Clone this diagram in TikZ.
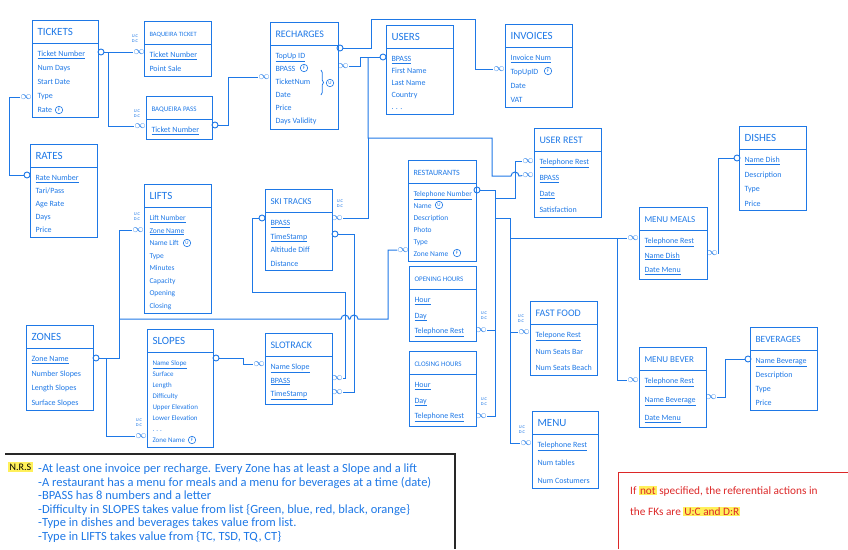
\documentclass[tikz,border=0pt]{standalone}
\usepackage{fontspec}
\setmainfont{Carlito}
\usetikzlibrary{shapes.multipart,decorations.pathreplacing}
\definecolor{pen}{RGB}{30,120,230}
\definecolor{redpen}{RGB}{220,40,40}
\definecolor{hi}{RGB}{255,240,90}
\definecolor{nrsline}{RGB}{40,40,40}
\setlength{\fboxsep}{1pt}
\newcommand{\pk}[1]{\underline{\rule{0pt}{8.5pt}#1}}
\newcommand{\ttl}[2][11]{{\fontsize{#1}{#1}\selectfont\rule[-4pt]{0pt}{14pt}#2}}
\tikzset{
  entity/.style={rectangle split,rectangle split parts=2,draw=pen,line width=1pt,anchor=north west,
    align=left,rectangle split part align=left,inner xsep=5pt,inner ysep=4pt,text=pen,
    font=\fontsize{8}{14}\selectfont},
  lh/.style 2 args={font=\fontsize{#1}{#2}\selectfont},
  wire/.style={draw=pen,line width=1pt},
  one/.style={circle,draw=pen,line width=0.9pt,inner sep=0pt,minimum size=6pt},
  many/.style={inner sep=0pt,text=pen,font=\fontsize{11}{11}\selectfont},
  ucdc/.style={inner sep=0pt,align=center,text=pen,font=\fontsize{4.5}{5}\selectfont},
  ring/.style={circle,draw=pen,line width=0.6pt,inner sep=0pt,minimum size=7.5pt,text=pen,
    font=\fontsize{5}{5}\selectfont}
}

\begin{document}
\begin{tikzpicture}[x=1pt,y=-1pt]
  \useasboundingbox (0,0) rectangle (848,549);

  % tables
  \node[entity,minimum width=66pt,minimum height=93pt] (tickets) at (32,20)
    {\ttl{TICKETS}\nodepart{two}\pk{Ticket Number}\\Num Days\\Start Date\\Type\\Rate};
  \node[entity,minimum width=67pt,minimum height=60pt] (bqticket) at (144,21)
    {\ttl[6.5]{BAQUEIRA TICKET}\nodepart{two}\pk{Ticket Number}\\Point Sale};
  \node[entity,minimum width=66pt,minimum height=59pt] (bqpass) at (146,96)
    {\ttl[7]{BAQUEIRA PASS}\nodepart{two}\pk{Ticket Number}};
  \node[entity,minimum width=68pt,minimum height=98pt,lh={8}{13}] (recharges) at (270,22)
    {\ttl[10]{RECHARGES}\nodepart{two}\pk{TopUp ID}\\BPASS\\TicketNum\\Date\\Price\\Days Validity};
  \node[entity,minimum width=67pt,minimum height=93pt,lh={8}{12}] (users) at (386,25)
    {\ttl{USERS}\nodepart{two}\pk{BPASS}\\First Name\\Last Name\\Country\\. . .};
  \node[entity,minimum width=67pt,minimum height=93pt] (invoices) at (505,24)
    {\ttl{INVOICES}\nodepart{two}\pk{Invoice Num}\\TopUpID\\Date\\VAT};
  \node[entity,minimum width=67pt,minimum height=94pt,lh={8}{13}] (rates) at (30,144)
    {\ttl{RATES}\nodepart{two}\pk{Rate Number}\\Tari/Pass\\Age Rate\\Days\\Price};
  \node[entity,minimum width=67pt,minimum height=128pt,lh={7.5}{12.5}] (lifts) at (144,184)
    {\ttl{LIFTS}\nodepart{two}\pk{Lift Number}\\\pk{Zone Name}\\Name Lift\\Type\\Minutes\\Capacity\\Opening\\Closing};
  \node[entity,minimum width=67pt,minimum height=93pt,lh={8}{13.5}] (skitracks) at (265,189)
    {\ttl[9]{SKI TRACKS}\nodepart{two}\pk{BPASS}\\\pk{TimeStamp}\\Altitude Diff\\Distance};
  \node[entity,minimum width=66pt,minimum height=93pt,lh={7.5}{12}] (restaurants) at (408,160)
    {\ttl[8]{RESTAURANTS}\nodepart{two}\pk{Telephone Number}\\Name\\Description\\Photo\\Type\\Zone Name};
  \node[entity,minimum width=67pt,minimum height=94pt,lh={8}{16}] (userrest) at (534,128)
    {\ttl[10]{USER REST}\nodepart{two}\pk{Telephone Rest}\\\pk{BPASS}\\\pk{Date}\\Satisfaction};
  \node[entity,minimum width=67pt,minimum height=93pt,lh={8}{14.5}] (dishes) at (739,126)
    {\ttl{DISHES}\nodepart{two}\pk{Name Dish}\\Description\\Type\\Price};
  \node[entity,minimum width=68pt,minimum height=93pt,lh={8}{14.5}] (menumeals) at (639,207)
    {\ttl[9]{MENU MEALS}\nodepart{two}\pk{Telephone Rest}\\\pk{Name Dish}\\\pk{Date Menu}};
  \node[entity,minimum width=67pt,minimum height=94pt,lh={8}{14.5}] (zones) at (26,325)
    {\ttl{ZONES}\nodepart{two}\pk{Zone Name}\\Number Slopes\\Length Slopes\\Surface Slopes};
  \node[entity,minimum width=66pt,minimum height=110pt,lh={7}{11}] (slopes) at (147,329)
    {\ttl{SLOPES}\nodepart{two}\pk{Name Slope}\\Surface\\Length\\Difficulty\\Upper Elevation\\Lower Elevation\\. . .\\Zone Name};
  \node[entity,minimum width=67pt,minimum height=94pt,lh={8}{13.5}] (slotrack) at (265,333)
    {\ttl[10]{SLOTRACK}\nodepart{two}\pk{Name Slope}\\\pk{BPASS}\\\pk{TimeStamp}};
  \node[entity,minimum width=67pt,minimum height=75pt,lh={8}{15.5}] (opening) at (409,266)
    {\ttl[7]{OPENING HOURS}\nodepart{two}\pk{Hour}\\\pk{Day}\\\pk{Telephone Rest}};
  \node[entity,minimum width=67pt,minimum height=74pt,lh={8}{15.5}] (closing) at (409,351)
    {\ttl[7]{CLOSING HOURS}\nodepart{two}\pk{Hour}\\\pk{Day}\\\pk{Telephone Rest}};
  \node[entity,minimum width=67pt,minimum height=93pt,lh={8}{16.5}] (fastfood) at (530,301)
    {\ttl[10]{FAST FOOD}\nodepart{two}\pk{Telepone Rest}\\Num Seats Bar\\Num Seats Beach};
  \node[entity,minimum width=66pt,minimum height=92pt,lh={8}{18}] (menu) at (532,411)
    {\ttl{MENU}\nodepart{two}\pk{Telephone Rest}\\Num tables\\Num Costumers};
  \node[entity,minimum width=67pt,minimum height=93pt,lh={8}{18.5}] (menubever) at (639,347)
    {\ttl[9]{MENU BEVER}\nodepart{two}\pk{Telephone Rest}\\\pk{Name Beverage}\\\pk{Date Menu}};
  \node[entity,minimum width=67pt,minimum height=93pt] (beverages) at (750,327)
    {\ttl[9.5]{BEVERAGES}\nodepart{two}\pk{Name Beverage}\\Description\\Type\\Price};

  % key marks (F foreign, U unique)
  \node[ring] (tk-fk) at (59,110) {F};
  \node[ring] (rc-fk) at (304,68) {F};
  \node[ring] (iv-fk) at (548,71) {F};
  \node[ring] (lf-uq) at (187,243) {U};
  \node[ring] (rs-uq) at (439,205) {U};
  \node[ring] (rs-fk) at (457,253) {F};
  \node[ring] (sl-fk) at (192,440) {F};
  \draw[pen,line width=0.8pt,decorate,decoration={brace,amplitude=2.5pt}] (321,70) -- (321,95);
  \node[ring] (rc-uq) at (330,83) {U};

  % cardinality marks
  \node[one] (tk-o) at (101,52) {};
  \node[many] (tk-m) at (26,97) {$\infty$};
  \node[many] (bqt-m) at (139,52) {$\infty$};
  \node[ucdc] (bqt-uc) at (135,39) {U.C\\D.C};
  \node[many] (bqp-m) at (140,126) {$\infty$};
  \node[ucdc] (bqp-uc) at (137,114) {U.C\\D.C};
  \node[one] (bqp-o) at (215,125) {};
  \node[many] (rc-m) at (264,77) {$\infty$};
  \node[one] (rt-o) at (27,175) {};
  \node[one] (rc-o) at (340,48) {};
  \node[many] (rc-bp) at (343,66) {$\infty$};
  \node[many] (iv-m) at (499,69) {$\infty$};
  \node[one] (us-o) at (383,57) {};
  \node[many] (ur-m1) at (528,161) {$\infty$};
  \node[many] (ur-m2) at (528,175) {$\infty$};
  \node[many] (st-m) at (337,218) {$\infty$};
  \node[ucdc] (st-uc) at (340,204) {U.C\\D.C};
  \node[one] (st-o1) at (262,218) {};
  \node[one] (st-o2) at (335,234) {};
  \node[one] (rs-o) at (477,190) {};
  \node[many] (rs-m) at (403,250) {$\infty$};
  \node[many] (oh-m) at (481,330) {$\infty$};
  \node[ucdc] (oh-uc) at (484,316) {U.C\\D.C};
  \node[many] (ch-m) at (481,416) {$\infty$};
  \node[ucdc] (ch-uc) at (484,402) {U.C\\D.C};
  \node[many] (ff-m) at (524,332) {$\infty$};
  \node[ucdc] (ff-uc) at (521,319) {U.C\\D.C};
  \node[many] (mn-m) at (526,443) {$\infty$};
  \node[ucdc] (mn-uc) at (522,430) {U.C\\D.C};
  \node[many] (mm-m) at (633,238) {$\infty$};
  \node[many] (mb-m) at (633,380) {$\infty$};
  \node[many] (mm-r) at (712,253) {$\infty$};
  \node[one] (ds-o) at (737,158) {};
  \node[many] (mb-r) at (711,397) {$\infty$};
  \node[one] (bv-o) at (748,359) {};
  \node[one] (zn-o) at (96,358) {};
  \node[many] (lf-m) at (138,230) {$\infty$};
  \node[ucdc] (lf-uc) at (137,217) {U.C\\D.C};
  \node[many] (sl-m) at (141,436) {$\infty$};
  \node[ucdc] (sl-uc) at (139,423) {U.C\\D.C};
  \node[one] (sl-o) at (216,358) {};
  \node[many] (sk-m) at (259,364) {$\infty$};
  \node[many] (sk-b) at (337,378) {$\infty$};
  \node[many] (sk-t) at (337,392) {$\infty$};

  % connectors
  \draw[wire] (tk-o) -- (bqt-m);
  \draw[wire] (108,52) |- (bqp-m);
  \draw[wire] (bqp-o) -- ++(13,0) |- (rc-m);
  \draw[wire] (tk-m) -- ++(-17,0) |- (rt-o);
  \draw[wire] (rc-o) -| (371,19) -| (475,69) -- (iv-m);
  \draw[wire] (us-o) -| (360,66) -- (rc-bp);
  \draw[wire] (368,57) |- (492,138) |- (511,176) arc(180:360:4) -- (ur-m2);
  \draw[wire] (368,138) |- (st-m);
  \draw[wire] (rs-o) -| (495,416) -- (ch-m);
  \draw[wire] (495,330) -- (oh-m);
  \draw[wire] (495,198) -| (515,161) -- (ur-m1);
  \draw[wire] (495,218) -| (510,443) -- (mn-m);
  \draw[wire] (510,332) -- (ff-m);
  \draw[wire] (510,238) -- (mm-m);
  \draw[wire] (617,238) |- (mb-m);
  \draw[wire] (mm-r) -| (718,158) -- (ds-o);
  \draw[wire] (mb-r) -| (725,359) -- (bv-o);
  \draw[wire] (zn-o) -| (119,230) -- (lf-m);
  \draw[wire] (106,358) |- (sl-m);
  \draw[wire] (119,319) -- (341,319) arc(180:360:4) -- (350,319) arc(180:360:4) -- (388,319) |- (rs-m);
  \draw[wire] (sl-o) -| (243,364) -- (sk-m);
  \draw[wire] (st-o1) -| (252,292) -| (345,378) -- (sk-b);
  \draw[wire] (st-o2) -| (354,392) -- (sk-t);

  % notes
  \draw[nrsline,line width=1.2pt] (5,454) -- (455,454) -- (455,549);
  \node[anchor=west,fill=hi,inner sep=1.5pt,font=\fontsize{10}{10}\selectfont] (nrs) at (8,467) {N.R.S};
  \node[anchor=north west,align=left,text=pen,inner sep=0pt,font=\fontsize{12.5}{13.5}\selectfont] (nrs-text) at (38,464)
    {-At least one invoice per recharge. Every Zone has at least a Slope and a lift\\
     -A restaurant has a menu for meals and a menu for beverages at a time (date)\\
     -BPASS has 8 numbers and a letter\\
     -Difficulty in SLOPES takes value from list \{Green, blue, red, black, orange\}\\
     -Type in dishes and beverages takes value from list.\\
     -Type in LIFTS takes value from \{TC, TSD, TQ, CT\}};
  \draw[redpen,line width=1pt] (618,549) -- (618,472) -- (848,472);
  \node[anchor=north west,align=left,text=redpen,inner sep=0pt,font=\fontsize{11.3}{21}\selectfont] (note) at (630,486)
    {If \colorbox{hi}{not} specified, the referential actions in\\the FKs are \colorbox{hi}{U:C and D:R}};
\end{tikzpicture}
\end{document}
